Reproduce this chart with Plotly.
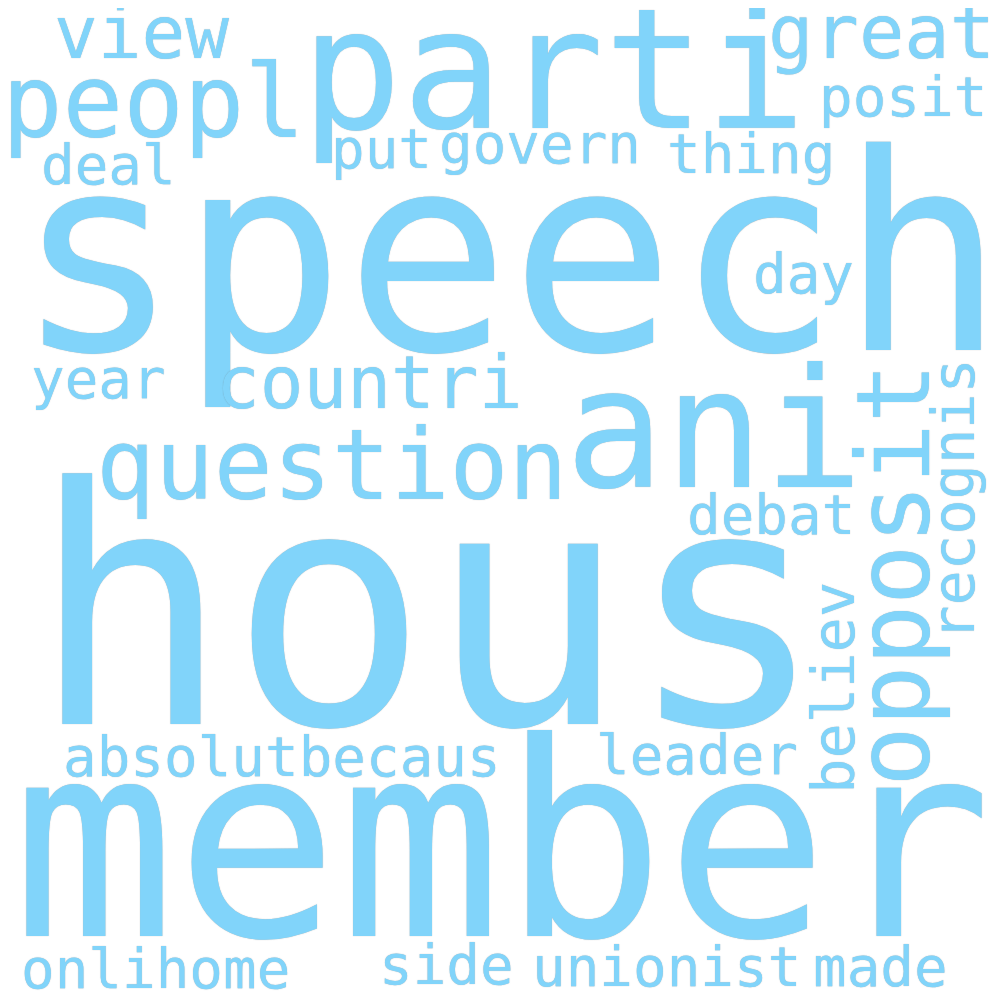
import plotly.graph_objects as go

# word frequencies (stemmed tokens)
words = ["hous", "speech", "member", "parti", "ani", "opposit", "peopl", "question",
         "great", "view", "countri", "recognis", "believ", "govern", "put", "posit",
         "thing", "deal", "year", "debat", "day", "absolutbecaus", "leader",
         "onlihome", "side", "unionist", "made"]
counts = [118, 98, 97, 60, 59, 36, 36, 35,
          27, 26, 26, 21, 21, 20, 20, 20,
          20, 20, 20, 20, 20, 20, 20,
          20, 20, 20, 20]

# packing result from the cloud layout: anchor (x, baseline y) in canvas px, vertical flag
cloud_layout = {
    "hous": (425, 727, False),
    "speech": (507, 352, False),
    "member": (499, 938, False),
    "parti": (550, 128, False),
    "ani": (711, 487, False),
    "opposit": (928, 567, True),
    "peopl": (150, 137, False),
    "question": (328, 498, False),
    "great": (878, 57, False),
    "view": (138, 57, False),
    "countri": (366, 407, False),
    "recognis": (972, 491, True),
    "believ": (852, 680, True),
    "govern": (537, 162, False),
    "put": (378, 167, False),
    "posit": (900, 115, False),
    "thing": (748, 172, False),
    "deal": (105, 183, False),
    "year": (95, 397, False),
    "debat": (768, 533, False),
    "day": (800, 292, False),
    "absolutbecaus": (279, 775, False),
    "leader": (694, 773, False),
    "onlihome": (152, 987, False),
    "side": (443, 983, False),
    "unionist": (663, 985, False),
    "made": (877, 985, False),
}

max_font = 330
word_color = "#81D4FA"
font_family = "DejaVu Sans Mono"

fig = go.Figure()
fig.add_trace(go.Scatter(x=[0, 1000], y=[0, 1000], mode="markers",
                         marker=dict(opacity=0), hoverinfo="skip", showlegend=False))

top = max(counts)
for w, c in zip(words, counts):
    size = max_font * c / top
    ax, base, vertical = cloud_layout[w]
    # baseline -> middle of the annotation box (tuned by eye)
    shift = 0.36 * size + 6
    if vertical:
        x, y, angle = ax - shift, base, -90
    else:
        x, y, angle = ax - 5, base - shift, 0
    fig.add_annotation(
        x=x, y=y, xref="x", yref="y", text=w, showarrow=False,
        xanchor="center", yanchor="middle", textangle=angle,
        font=dict(family=font_family, size=size, color=word_color,
                  shadow="0px 0px 1px rgba(110,110,110,0.55)"),
    )

fig.update_xaxes(range=[0, 1000], visible=False, fixedrange=True)
fig.update_yaxes(range=[1000, 0], visible=False, fixedrange=True)
fig.update_layout(
    width=1000, height=1000,
    margin=dict(l=0, r=0, t=0, b=0),
    paper_bgcolor="white", plot_bgcolor="white",
)

fig.write_html("out.html")
